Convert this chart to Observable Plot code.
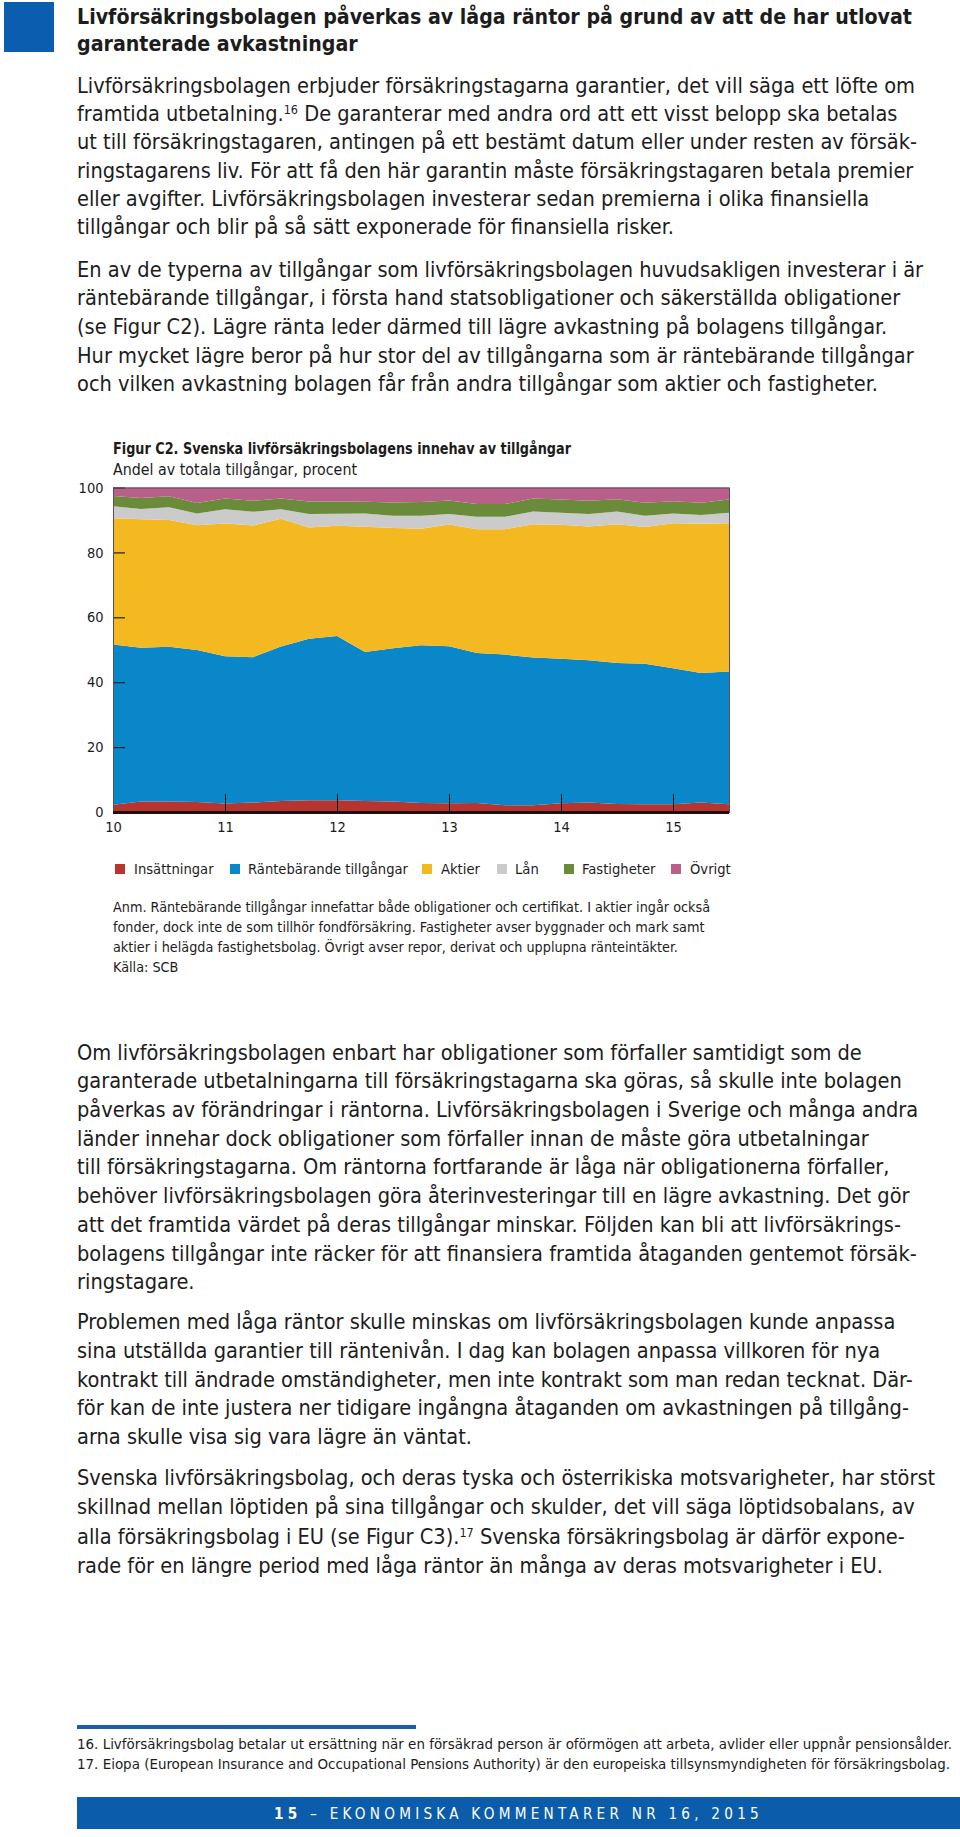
<!DOCTYPE html>
<html><head><meta charset="utf-8">
<script src="https://cdn.jsdelivr.net/npm/d3@7"></script>
<script src="https://cdn.jsdelivr.net/npm/@observablehq/plot@0.6"></script>
<style>
html,body{margin:0;padding:0;background:#fff;}
#page{position:relative;width:960px;height:1837px;overflow:hidden;font-family:"Liberation Sans Narrow","DejaVu Sans Condensed","Roboto","Liberation Sans",sans-serif;color:#1c1c1c;}
.ln{position:absolute;white-space:nowrap;transform-origin:0 50%;}
.ln sup{font-size:0.58em;vertical-align:0.55em;line-height:0;}
.box{position:absolute;}
</style></head><body><div id="page"></div>
<script>
// ---------- data ----------
const quarters = [10, 10.25, 10.5, 10.75, 11, 11.25, 11.5, 11.75, 12, 12.25, 12.5, 12.75, 13, 13.25, 13.5, 13.75, 14, 14.25, 14.5, 14.75, 15, 15.25, 15.5];
const seriesNames = ["Insättningar", "Räntebärande tillgångar", "Aktier", "Lån", "Fastigheter", "Övrigt"];
const insattningar = [2.2, 3.2, 3.2, 3.1, 2.6, 2.9, 3.4, 3.6, 3.6, 3.4, 3.2, 2.8, 2.7, 2.8, 2.1, 2.1, 2.7, 2.9, 2.5, 2.4, 2.4, 2.9, 2.4];
const rantebarande = [49.4, 47.4, 47.7, 46.8, 45.4, 44.8, 47.6, 49.8, 50.6, 45.9, 47.3, 48.6, 48.4, 46.2, 46.4, 45.5, 44.5, 43.9, 43.4, 43.3, 41.9, 39.9, 40.9];
const aktier = [38.9, 39.6, 39.1, 38.5, 40.9, 40.6, 39.4, 34.3, 34.0, 38.6, 37.0, 35.9, 37.5, 38.1, 38.6, 41.1, 41.3, 41.2, 42.8, 42.1, 44.7, 46.0, 45.7];
const lan = [3.7, 3.2, 3.9, 3.6, 4.4, 4.2, 2.9, 4.1, 3.7, 4.1, 3.8, 4.0, 3.2, 3.9, 3.9, 3.9, 3.7, 3.8, 3.9, 3.5, 3.0, 2.7, 3.2];
const fastigheter = [3.2, 3.4, 3.4, 3.2, 3.3, 3.4, 3.3, 3.9, 3.8, 3.6, 4.1, 4.2, 4.2, 3.9, 3.9, 4.0, 4.1, 4.1, 3.8, 4.0, 3.8, 3.8, 4.1];
const ovrigt = [2.6, 3.2, 2.7, 4.8, 3.4, 4.1, 3.4, 4.3, 4.3, 4.4, 4.6, 4.5, 4.0, 5.1, 5.1, 3.4, 3.7, 4.1, 3.6, 4.7, 4.2, 4.7, 3.7];
const seriesColors = ["#b8352f", "#0a87c8", "#f4b820", "#cbcbcb", "#6a8b3a", "#b8608a"];
const xTicks = [10, 11, 12, 13, 14, 15];
const yTicks = [0, 20, 40, 60, 80, 100];

const chartTitle = "Figur C2. Svenska livförsäkringsbolagens innehav av tillgångar";
const chartSubtitle = "Andel av totala tillgångar, procent";
const pageTitle = ["Livförsäkringsbolagen påverkas av låga räntor på grund av att de har utlovat", "garanterade avkastningar"];
const para1 = [
  "Livförsäkringsbolagen erbjuder försäkringstagarna garantier, det vill säga ett löfte om",
  "framtida utbetalning.<sup>16</sup> De garanterar med andra ord att ett visst belopp ska betalas",
  "ut till försäkringstagaren, antingen på ett bestämt datum eller under resten av försäk-",
  "ringstagarens liv. För att få den här garantin måste försäkringstagaren betala premier",
  "eller avgifter. Livförsäkringsbolagen investerar sedan premierna i olika finansiella",
  "tillgångar och blir på så sätt exponerade för finansiella risker."];
const para2 = [
  "En av de typerna av tillgångar som livförsäkringsbolagen huvudsakligen investerar i är",
  "räntebärande tillgångar, i första hand statsobligationer och säkerställda obligationer",
  "(se Figur C2). Lägre ränta leder därmed till lägre avkastning på bolagens tillgångar.",
  "Hur mycket lägre beror på hur stor del av tillgångarna som är räntebärande tillgångar",
  "och vilken avkastning bolagen får från andra tillgångar som aktier och fastigheter."];
const noteLines = [
  "Anm. Räntebärande tillgångar innefattar både obligationer och certifikat. I aktier ingår också",
  "fonder, dock inte de som tillhör fondförsäkring. Fastigheter avser byggnader och mark samt",
  "aktier i helägda fastighetsbolag. Övrigt avser repor, derivat och upplupna ränteintäkter.",
  "Källa: SCB"];
const para3 = [
  "Om livförsäkringsbolagen enbart har obligationer som förfaller samtidigt som de",
  "garanterade utbetalningarna till försäkringstagarna ska göras, så skulle inte bolagen",
  "påverkas av förändringar i räntorna. Livförsäkringsbolagen i Sverige och många andra",
  "länder innehar dock obligationer som förfaller innan de måste göra utbetalningar",
  "till försäkringstagarna. Om räntorna fortfarande är låga när obligationerna förfaller,",
  "behöver livförsäkringsbolagen göra återinvesteringar till en lägre avkastning. Det gör",
  "att det framtida värdet på deras tillgångar minskar. Följden kan bli att livförsäkrings-",
  "bolagens tillgångar inte räcker för att finansiera framtida åtaganden gentemot försäk-",
  "ringstagare."];
const para4 = [
  "Problemen med låga räntor skulle minskas om livförsäkringsbolagen kunde anpassa",
  "sina utställda garantier till räntenivån. I dag kan bolagen anpassa villkoren för nya",
  "kontrakt till ändrade omständigheter, men inte kontrakt som man redan tecknat. Där-",
  "för kan de inte justera ner tidigare ingångna åtaganden om avkastningen på tillgång-",
  "arna skulle visa sig vara lägre än väntat."];
const para5 = [
  "Svenska livförsäkringsbolag, och deras tyska och österrikiska motsvarigheter, har störst",
  "skillnad mellan löptiden på sina tillgångar och skulder, det vill säga löptidsobalans, av",
  "alla försäkringsbolag i EU (se Figur C3).<sup>17</sup> Svenska försäkringsbolag är därför expone-",
  "rade för en längre period med låga räntor än många av deras motsvarigheter i EU."];
const footnotes = [
  "16. Livförsäkringsbolag betalar ut ersättning när en försäkrad person är oförmögen att arbeta, avlider eller uppnår pensionsålder.",
  "17. Eiopa (European Insurance and Occupational Pensions Authority) är den europeiska tillsynsmyndigheten för försäkringsbolag."];
const footerText = "<b>15</b> – EKONOMISKA KOMMENTARER NR 16, 2015";

// ---------- layout helpers ----------
const page = document.getElementById("page");
const styles = {
  title: {size: 22, weight: 700, lh: 27, target: 835},
  body: {size: 20.5, weight: 400, lh: 28, target: 838},
  ctitle: {size: 15.5, weight: 700, lh: 20, target: 458},
  csub: {size: 15.5, weight: 400, lh: 20, target: 244},
  legend: {size: 14.5, weight: 400, lh: 18, target: 160, ref: 1},
  note: {size: 13.8, weight: 400, lh: 18, target: 597},
  foot: {size: 13.8, weight: 400, lh: 18, target: 875},
  bar: {size: 15, weight: 400, lh: 20, target: 489, ls: 4.2, color: "#fff"}
};
const groups = {};
function addLine(html, x, cy, g) {
  const st = styles[g];
  const d = document.createElement("div");
  d.className = "ln";
  d.innerHTML = html;
  d.style.left = x + "px";
  d.style.top = (cy - st.lh / 2) + "px";
  d.style.height = st.lh + "px";
  d.style.lineHeight = st.lh + "px";
  d.style.fontSize = st.size + "px";
  d.style.fontWeight = st.weight;
  if (st.ls) d.style.letterSpacing = st.ls + "px";
  if (st.color) d.style.color = st.color;
  page.appendChild(d);
  (groups[g] = groups[g] || []).push(d);
  return d;
}
function addBox(x, y, w, h, color) {
  const b = document.createElement("div");
  b.className = "box";
  Object.assign(b.style, {left: x + "px", top: y + "px", width: w + "px", height: h + "px", background: color});
  page.appendChild(b);
}
function addBlock(lines, x, y0, step, g) { lines.forEach((t, i) => addLine(t, x, y0 + i * step, g)); }

// ---------- page decoration ----------
addBox(4, 2, 50, 50, "#0b5db0");
addBlock(pageTitle, 77, 16.5, 27, "title");
addBlock(para1, 77, 85.6, 28.36, "body");
addBlock(para2, 77, 269.6, 28.7, "body");
addLine(chartTitle, 112.5, 449, "ctitle");
addLine(chartSubtitle, 112.5, 470, "csub");

// ---------- chart ----------
const data = seriesNames.flatMap((name, k) =>
  quarters.map((q, i) => ({x: q, serie: name, value: [insattningar, rantebarande, aktier, lan, fastigheter, ovrigt][k][i]})));

const fontFam = '"Liberation Sans Narrow","DejaVu Sans Condensed","Roboto","Liberation Sans",sans-serif';
const chart = Plot.plot({
  width: 960,
  height: 364,
  marginLeft: 113,
  marginRight: 231,
  marginTop: 9.5,
  marginBottom: 30,
  style: {fontFamily: fontFam, fontSize: "14.5px", color: "#1c1c1c", background: "transparent", overflow: "visible"},
  x: {domain: [10, 15.5]},
  y: {domain: [0, 100]},
  color: {domain: seriesNames, range: seriesColors},
  marks: [
    Plot.areaY(data, {x: "x", y: "value", fill: "serie", order: seriesNames, curve: "linear"}),
    Plot.axisX({ticks: xTicks, tickSize: 18, dy: -18, text: null, label: null, stroke: "#111", strokeWidth: 1}),
    Plot.axisX({ticks: xTicks, tickSize: 0, tickPadding: 9, tickFormat: d => String(d), label: null, fill: "#1c1c1c"}),
    Plot.axisY({ticks: yTicks, tickSize: 12, dx: 12, text: null, label: null, stroke: "#222", strokeWidth: 1.2}),
    Plot.axisY({ticks: yTicks, tickSize: 0, tickPadding: 10, label: null, fill: "#1c1c1c"}),
    Plot.frame({stroke: "#5d4f58", strokeWidth: 1}),
    Plot.ruleY([0], {stroke: "#1a1010", strokeWidth: 3})
  ]
});
chart.style.position = "absolute";
chart.style.left = "0px";
chart.style.top = "478px";
page.appendChild(chart);

// ---------- legend ----------
const legendSquareX = [114.5, 230, 421.5, 497, 564, 671];
const legendLabelX = [134, 247.5, 441, 515, 582, 690];
seriesNames.forEach((name, i) => {
  addBox(legendSquareX[i], 863.5, 10, 10, seriesColors[i]);
  addLine(name, legendLabelX[i], 868.6, "legend");
});

// ---------- notes and lower text ----------
addBlock(noteLines, 112.5, 907, 19.9, "note");
addBlock(para3, 77, 1052.6, 28.7, "body");
addBlock(para4, 77, 1322, 28.75, "body");
addBlock(para5, 77, 1478, 29.3, "body");
addBox(77, 1725, 339, 3.5, "#1b5fa8");
addBlock(footnotes, 77, 1744, 19.5, "foot");
addBox(77, 1797, 883, 32, "#0b5cab");
const barLine = addLine(footerText, 0, 1813.5, "bar");

// ---------- fit widths ----------
for (const g in groups) {
  const st = styles[g];
  const ref = groups[g][st.ref || 0];
  const w = ref.getBoundingClientRect().width;
  const s = st.target / w;
  groups[g].forEach(d => { d.style.transform = "scaleX(" + s + ")"; });
  st.scale = s;
}
const bw = barLine.getBoundingClientRect().width;
barLine.style.left = (518.5 - bw / 2) + "px";
</script></body></html>
